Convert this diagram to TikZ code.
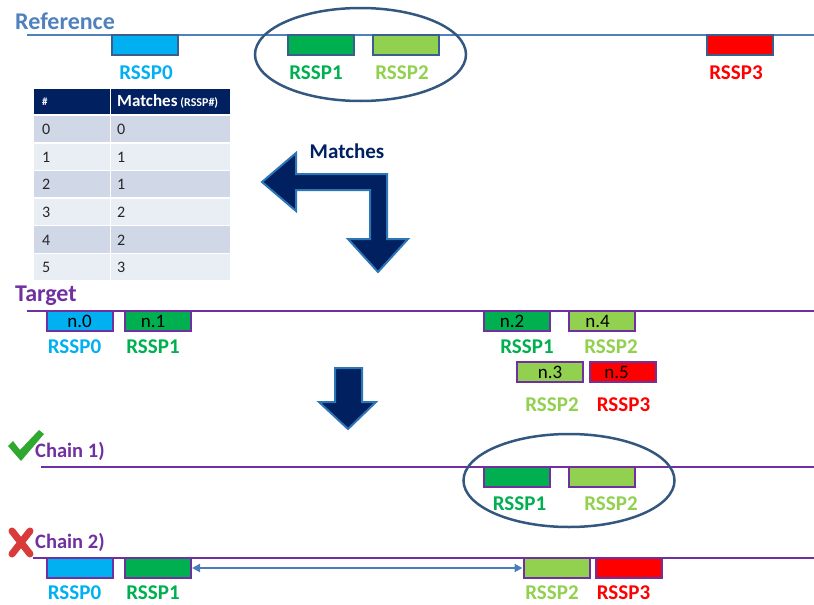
\documentclass[tikz,border=0pt]{standalone}
\usepackage{fontspec}
\setmainfont{Carlito}
\usetikzlibrary{shapes.geometric,arrows.meta}
\definecolor{refblue}{HTML}{4F81BD}
\definecolor{refedge}{HTML}{3A5F8F}
\definecolor{ringblue}{HTML}{34577F}
\definecolor{purp}{HTML}{7030A0}
\definecolor{cyanfill}{HTML}{00B0F0}
\definecolor{greenfill}{HTML}{00B050}
\definecolor{limefill}{HTML}{92D050}
\definecolor{redfill}{HTML}{FF0000}
\definecolor{navy}{HTML}{002060}
\definecolor{arrowedge}{HTML}{2E75B6}
\definecolor{rowdark}{HTML}{D0D8E8}
\definecolor{rowlight}{HTML}{E9EDF4}
\definecolor{okgreen}{HTML}{2EA82E}
\definecolor{badred}{HTML}{D93A3A}
\definecolor{linkblue}{HTML}{4A7EBB}
\newcommand\setfs[1]{\fontsize{#1}{#1}\selectfont}
\begin{document}
\begin{tikzpicture}[x=1pt,y=-1pt,
  seg/.style={minimum width=66pt,minimum height=20pt,inner sep=0pt,line width=2pt},
  refseg/.style={seg,draw=refedge},
  tgtseg/.style={seg,draw=purp,font=\setfs{19},text=black},
  lbl/.style={font=\bfseries\setfs{21},inner sep=0pt},
  heading/.style={font=\bfseries\setfs{24},inner sep=0pt,anchor=west},
  track/.style={line width=2.2pt},
  ring/.style={draw=ringblue,line width=2.5pt,ellipse,minimum width=211pt,minimum height=93pt,inner sep=0pt},
  bigarrow/.style={fill=navy,draw=arrowedge,line width=2pt,line join=miter},
  cellnum/.style={font=\setfs{16},text=black!85,inner sep=0pt,anchor=west}
]
\useasboundingbox (0,0) rectangle (814,605);

% ---------------- reference sequence ----------------
\node[heading,text=refblue] (refhead) at (15,21) {Reference};
\coordinate (refL) at (27,35);
\coordinate (refR) at (814,35);
\draw[track,refblue] (refL) -- (refR);
\node[refseg,fill=cyanfill]  (r0) at (145,45) {};
\node[refseg,fill=greenfill] (r1) at (321,45) {};
\node[refseg,fill=limefill]  (r2) at (406,45) {};
\node[refseg,fill=redfill]   (r3) at (740,45) {};
\node[lbl,text=cyanfill]  (r0l) at (146,73) {RSSP0};
\node[lbl,text=greenfill] (r1l) at (316,73) {RSSP1};
\node[lbl,text=limefill]  (r2l) at (402,73) {RSSP2};
\node[lbl,text=redfill]   (r3l) at (736,73) {RSSP3};
\node[ring] (refring) at (360.5,54.5) {};

% ---------------- matches table ----------------
\fill[navy] (34,89) rectangle (109.5,114);
\fill[navy] (111,89) rectangle (230,114);
\foreach \i/\c in {0/rowdark,1/rowlight,2/rowdark,3/rowlight,4/rowdark,5/rowlight}{
  \fill[\c] (34,116+27.6*\i) rectangle (109.5,116+27.6*\i+26.2);
  \fill[\c] (111,116+27.6*\i) rectangle (230,116+27.6*\i+26.2);
}
\node[font=\bfseries\setfs{11},text=white,inner sep=0pt,anchor=west] (hhash) at (42,101.5) {\#};
\node[font=\bfseries\setfs{17},text=white,inner sep=0pt,anchor=west] (hmatch) at (117,101.5)
  {Matches\,{\setfs{12}(RSSP\#)}};
\foreach \i/\m in {0/0,1/1,2/1,3/2,4/2,5/3}{
  \node[cellnum] (ca\i) at (42,129.5+27.6*\i) {\i};
  \node[cellnum] (cb\i) at (117,129.5+27.6*\i) {\m};
}

% ---------------- bent "Matches" arrow ----------------
\draw[bigarrow] (262,182) -- (296,153) -- (296,174) -- (387,174) -- (387,239)
  -- (408,239) -- (378,272) -- (348,239) -- (370,239) -- (370,190)
  -- (296,190) -- (296,211) -- cycle;
\node[font=\bfseries\setfs{21},text=navy,inner sep=0pt] (mlabel) at (347,151) {Matches};

% ---------------- target sequence ----------------
\node[heading,text=purp] (tgthead) at (15,296) {Target};
\coordinate (tgtL) at (27,311);
\coordinate (tgtR) at (814,311);
\draw[track,purp] (tgtL) -- (tgtR);
\node[tgtseg,fill=cyanfill]  (n0) at (79.5,321) {n.0};
\node[tgtseg,fill=greenfill] (n1) at (158,321) {\hspace*{-10pt}n.1};
\node[tgtseg,fill=greenfill] (n2) at (517,321) {\hspace*{-10pt}n.2};
\node[tgtseg,fill=limefill]  (n4) at (601.5,321) {\hspace*{-8pt}n.4};
\node[tgtseg,fill=limefill]  (n3) at (550,372) {n.3};
\node[tgtseg,fill=redfill]   (n5) at (622.5,372) {\hspace*{-12pt}n.5};
\node[lbl,text=cyanfill]  (n0l) at (74.5,347) {RSSP0};
\node[lbl,text=greenfill] (n1l) at (153,347) {RSSP1};
\node[lbl,text=greenfill] (n2l) at (527,347) {RSSP1};
\node[lbl,text=limefill]  (n4l) at (611,347) {RSSP2};
\node[lbl,text=limefill]  (n3l) at (552,405) {RSSP2};
\node[lbl,text=redfill]   (n5l) at (623.5,405) {RSSP3};

% ---------------- down arrow ----------------
\draw[bigarrow] (335,368) -- (362,368) -- (362,402) -- (376,402) -- (348,429)
  -- (319,402) -- (335,402) -- cycle;

% ---------------- chain 1 (accepted) ----------------
\fill[okgreen] (8,446) -- (13,441) -- (20,450) -- (39,430) -- (44,434) -- (21,461) -- cycle;
\node[font=\bfseries\setfs{20.5},text=purp,inner sep=0pt,anchor=west] (c1head) at (35,451) {Chain 1)};
\coordinate (c1L) at (41,467);
\coordinate (c1R) at (814,467);
\draw[track,purp] (c1L) -- (c1R);
\node[seg,draw=purp,fill=greenfill] (c1a) at (517,477) {};
\node[seg,draw=purp,fill=limefill]  (c1b) at (601.5,477) {};
\node[lbl,text=greenfill] (c1al) at (519.5,504) {RSSP1};
\node[lbl,text=limefill]  (c1bl) at (611,504) {RSSP2};
\node[ring] (c1ring) at (569,480.5) {};

% ---------------- chain 2 (rejected) ----------------
\draw[badred,line width=7pt,line cap=round] (12,531) -- (30,554);
\draw[badred,line width=7pt,line cap=round] (30,531) -- (12,554);
\node[font=\bfseries\setfs{20.5},text=purp,inner sep=0pt,anchor=west] (c2head) at (35,542) {Chain 2)};
\coordinate (c2L) at (33,558);
\coordinate (c2R) at (814,558);
\draw[track,purp] (c2L) -- (c2R);
\node[seg,draw=purp,fill=cyanfill]  (c2a) at (79.5,568) {};
\node[seg,draw=purp,fill=greenfill] (c2b) at (158,568) {};
\node[seg,draw=purp,fill=limefill]  (c2c) at (556.5,568) {};
\node[seg,draw=purp,fill=redfill]   (c2d) at (628.5,568) {};
\node[lbl,text=cyanfill]  (c2al) at (74.5,592.5) {RSSP0};
\node[lbl,text=greenfill] (c2bl) at (153,592.5) {RSSP1};
\node[lbl,text=limefill]  (c2cl) at (552,592.5) {RSSP2};
\node[lbl,text=redfill]   (c2dl) at (623.5,592.5) {RSSP3};
\draw[linkblue,line width=2pt,{Triangle[length=8pt,width=8pt]}-{Triangle[length=8pt,width=8pt]}]
  (c2b.east) -- (c2c.west);
\end{tikzpicture}
\end{document}
